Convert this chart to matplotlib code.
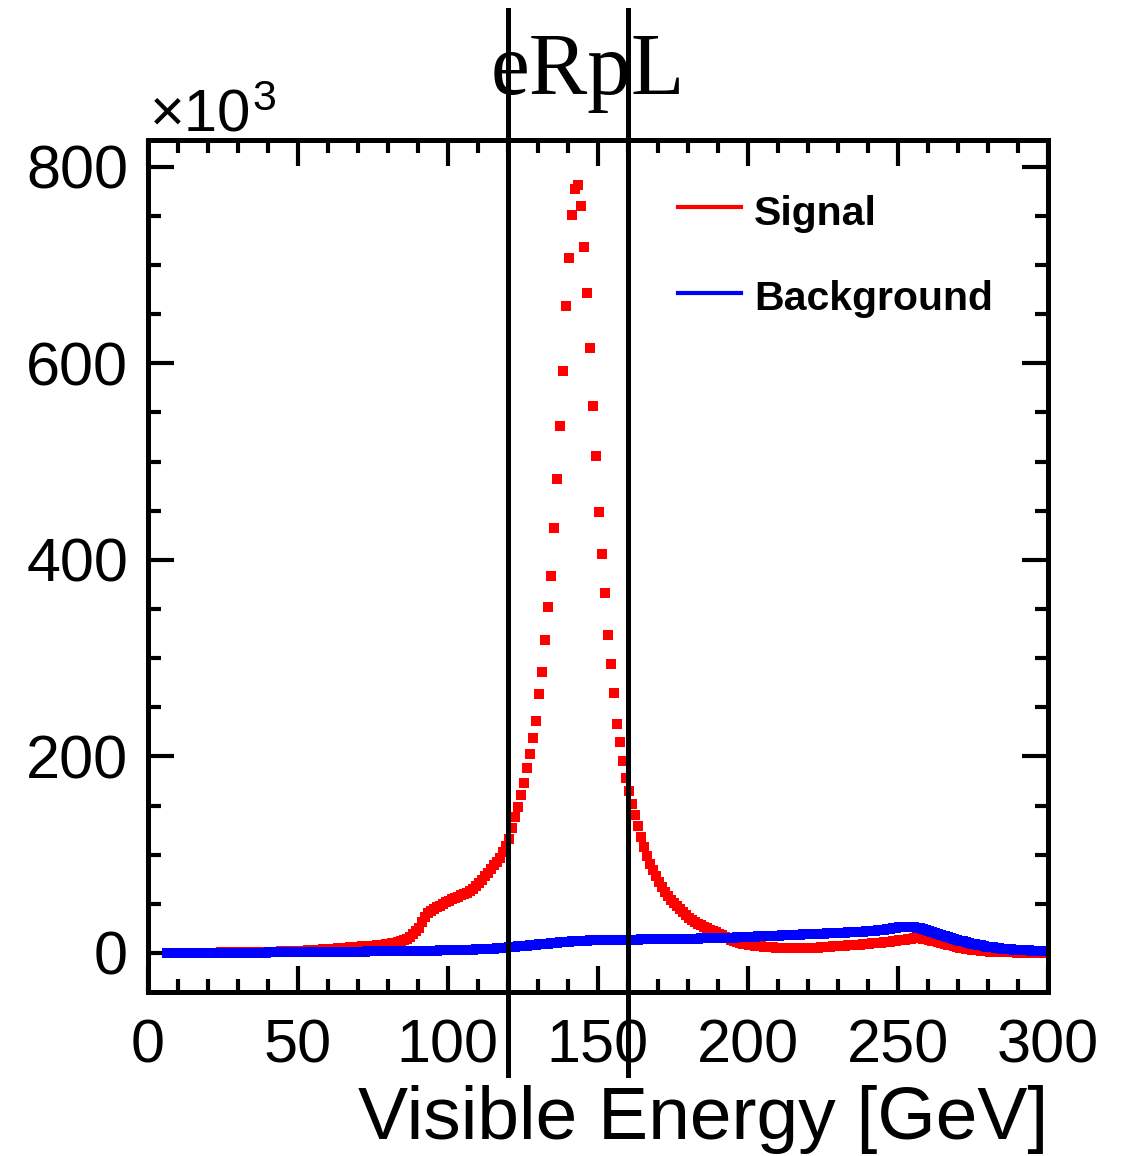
import numpy as np
import matplotlib
matplotlib.use("Agg")
import matplotlib.pyplot as plt
from matplotlib.ticker import MultipleLocator

# visible energy histograms, 1 GeV bins from 6 to 300 GeV, entries in units of 10^3
bin_low = 6
bin_high = 300

signal = (
    [0, 0, 0, 0]
    + [0, 0, 0, 0, 0, 0, 0.1, 0.1, 0.2, 0.2]
    + [0.3, 0.3, 0.4, 0.4, 0.5, 0.5, 0.6, 0.6, 0.7, 0.7]
    + [0.8, 0.8, 0.9, 0.9, 1.0, 1.0, 1.1, 1.1, 1.2, 1.2]
    + [1.3, 1.3, 1.4, 1.4, 1.5, 1.5, 1.6, 1.7, 1.8, 1.9]
    + [2.0, 2.2, 2.4, 2.6, 2.8, 3.0, 3.2, 3.4, 3.6, 3.8]
    + [4.0, 4.2, 4.4, 4.6, 4.8, 5.0, 5.3, 5.6, 5.9, 6.2]
    + [6.4, 6.6, 6.8, 7.0, 7.2, 7.4, 7.7, 8.0, 8.4, 8.8]
    + [9.3, 9.8, 10.4, 11.0, 11.8, 12.8, 14.5, 16.5, 19.0, 22.0]
    + [25.5, 31.0, 37.0, 40.5, 43.0, 45.0, 46.5, 48.0, 50.0, 51.5]
    + [53.0, 54.5, 56.0, 57.0, 58.5, 60.0, 61.5, 63.0, 65.0, 68.0]
    + [71.0, 74.5, 78.0, 81.5, 85.0, 89.0, 93.0, 97.0, 103.0, 109.0]
    + [116.0, 127.0, 138.0, 149.0, 161.0, 173.0, 188.2, 202.5, 218.8, 236.1]
    + [263.5, 286.0, 318.5, 352.1, 383.6, 432.4, 482.3, 536.2, 592.2, 658.3]
    + [707.2, 750.9, 777.4, 781.4, 760.1, 718.4, 671.5, 615.6, 556.6, 505.7]
    + [448.7, 405.9, 366.3, 323.6, 294.1, 264.5, 233.0, 214.7, 195.4, 178.0]
    + [165.0, 152.0, 140.0, 129.0, 118.0, 108.0, 99.0, 91.0, 84.0, 78.0]
    + [72.0, 67.0, 62.0, 58.0, 54.0, 51.0, 47.5, 44.5, 41.5, 38.5]
    + [36.0, 33.5, 31.5, 29.5, 28.0, 26.5, 25.0, 23.5, 22.0, 21.0]
    + [19.5, 18.0, 16.5, 15.0, 13.5, 12.0, 11.0, 10.0, 9.3, 8.7]
    + [8.1, 7.7, 7.3, 7.0, 6.7, 6.4, 6.1, 5.9, 5.7, 5.5]
    + [5.3, 5.2, 5.1, 5.0, 5.0, 5.0, 5.0, 5.0, 5.0, 5.0]
    + [5.0, 5.1, 5.2, 5.4, 5.6, 5.8, 6.0, 6.3, 6.6, 6.9]
    + [7.1, 7.3, 7.5, 7.7, 7.9, 8.1, 8.3, 8.5, 8.8, 9.1]
    + [9.4, 9.7, 10.0, 10.3, 10.6, 10.9, 11.2, 11.5, 11.9, 12.3]
    + [12.7, 13.1, 13.5, 14.0, 14.5, 15.0, 15.3, 15.0, 14.5, 14.0]
    + [13.3, 12.5, 11.7, 10.9, 10.0, 9.2, 8.4, 7.6, 6.9, 6.2]
    + [5.5, 4.9, 4.3, 3.8, 3.3, 2.9, 2.5, 2.2, 1.9, 1.6]
    + [1.4, 1.2, 1.0, 0.9, 0.8, 0.7, 0.6, 0.5, 0.5, 0.4]
    + [0.4, 0.4, 0.3, 0.3, 0.3, 0.3, 0.2, 0.2, 0.2, 0.2]
)

background = (
    [0.2, 0.2, 0.2, 0.2]
    + [0.2, 0.2, 0.2, 0.2, 0.2, 0.2, 0.2, 0.2, 0.2, 0.2]
    + [0.3, 0.3, 0.3, 0.3, 0.3, 0.3, 0.3, 0.3, 0.3, 0.3]
    + [0.4, 0.4, 0.4, 0.4, 0.4, 0.4, 0.4, 0.4, 0.4, 0.4]
    + [0.5, 0.5, 0.5, 0.5, 0.5, 0.5, 0.5, 0.5, 0.5, 0.5]
    + [0.6, 0.6, 0.7, 0.7, 0.8, 0.8, 0.9, 0.9, 1.0, 1.0]
    + [1.0, 1.0, 1.1, 1.1, 1.2, 1.2, 1.2, 1.3, 1.3, 1.3]
    + [1.4, 1.4, 1.4, 1.5, 1.5, 1.5, 1.6, 1.6, 1.6, 1.7]
    + [1.7, 1.7, 1.8, 1.8, 1.8, 1.9, 1.9, 2.0, 2.0, 2.1]
    + [2.1, 2.2, 2.2, 2.3, 2.3, 2.4, 2.4, 2.5, 2.5, 2.6]
    + [2.7, 2.8, 2.9, 3.0, 3.1, 3.2, 3.3, 3.4, 3.5, 3.6]
    + [3.7, 3.8, 3.9, 4.1, 4.3, 4.5, 4.7, 4.9, 5.1, 5.4]
    + [5.7, 6.0, 6.3, 6.6, 6.9, 7.2, 7.5, 7.8, 8.1, 8.4]
    + [8.7, 9.0, 9.3, 9.6, 9.9, 10.2, 10.5, 10.8, 11.1, 11.4]
    + [11.6, 11.8, 12.0, 12.2, 12.4, 12.5, 12.6, 12.7, 12.8, 12.9]
    + [13.0, 13.0, 13.1, 13.1, 13.2, 13.2, 13.3, 13.3, 13.4, 13.4]
    + [13.5, 13.5, 13.6, 13.6, 13.7, 13.7, 13.8, 13.8, 13.9, 13.9]
    + [14.0, 14.0, 14.1, 14.1, 14.2, 14.2, 14.3, 14.3, 14.4, 14.4]
    + [14.5, 14.5, 14.6, 14.7, 14.8, 14.8, 14.9, 15.0, 15.0, 15.1]
    + [15.2, 15.3, 15.4, 15.5, 15.6, 15.7, 15.8, 15.9, 16.0, 16.2]
    + [16.4, 16.5, 16.6, 16.8, 16.9, 17.0, 17.2, 17.3, 17.4, 17.6]
    + [17.7, 17.8, 18.0, 18.1, 18.2, 18.4, 18.5, 18.6, 18.8, 18.9]
    + [19.0, 19.2, 19.3, 19.4, 19.6, 19.7, 19.8, 20.0, 20.1, 20.3]
    + [20.4, 20.6, 20.7, 20.9, 21.0, 21.2, 21.3, 21.5, 21.7, 21.9]
    + [22.1, 22.3, 22.6, 22.9, 23.2, 23.6, 24.0, 24.5, 25.0, 25.5]
    + [26.0, 26.4, 26.7, 26.8, 26.6, 26.2, 25.6, 24.9, 24.1, 23.2]
    + [22.3, 21.3, 20.3, 19.3, 18.3, 17.3, 16.3, 15.3, 14.4, 13.5]
    + [12.6, 11.8, 11.0, 10.2, 9.5, 8.8, 8.2, 7.6, 7.0, 6.5]
    + [6.0, 5.6, 5.2, 4.8, 4.5, 4.2, 3.9, 3.6, 3.4, 3.2]
    + [3.0, 2.8, 2.6, 2.5, 2.4, 2.3, 2.2, 2.1, 2.0, 1.9]
)

cut_low = 120
cut_high = 160

energy = np.arange(bin_low, bin_high) + 0.5

plt.rcParams['font.family'] = 'Liberation Sans'

fig = plt.figure(figsize=(11.35, 11.56), dpi=100)
ax = fig.add_axes([0.1300, 0.1419, 0.7934, 0.7370])

ax.plot(energy, signal, ls='none', marker='s', ms=6.5, mew=0, color='#ff0000')
ax.plot(energy, background, ls='none', marker='s', ms=6.5, mew=0, color='#0000ff')

ax.set_xlim(0, 300)
ax.set_ylim(-39.7, 827.2)

ax.xaxis.set_major_locator(MultipleLocator(50))
ax.xaxis.set_minor_locator(MultipleLocator(10))
ax.yaxis.set_major_locator(MultipleLocator(200))
ax.yaxis.set_minor_locator(MultipleLocator(50))
ax.tick_params(which='both', direction='in', top=True, right=True, width=3, color='black')
ax.tick_params(which='major', length=19, labelsize=44)
ax.tick_params(which='minor', length=9.5)
ax.tick_params(axis='x', which='major', pad=19)
ax.tick_params(axis='y', which='major', pad=14)
for sp in ax.spines.values():
    sp.set_linewidth(3.6)

# cut lines, running past the frame as in the original
for cut in (cut_low, cut_high):
    ax.axvline(cut, ymin=-0.0974, ymax=1.1526, color='black', lw=3.6, clip_on=False, zorder=5)

ax.set_xlabel('Visible Energy [GeV]', fontsize=54, ha='right', x=1.0, labelpad=7)

fig.text(588 / 1135, 1 - 94 / 1156, 'eRpL', family='Liberation Serif', fontsize=63,
         ha='center', va='baseline')
fig.text(150 / 1135, 1 - 132 / 1156, '\u00d710', fontsize=43, ha='left', va='baseline')
fig.text(252 / 1135, 1 - 110 / 1156, '3', fontsize=31, ha='left', va='baseline')

# legend drawn by hand
for label, col, yl, yb in (('Signal', '#ff0000', 207, 225), ('Background', '#0000ff', 293, 310)):
    fig.add_artist(plt.Line2D([678 / 1135, 741 / 1135], [1 - yl / 1156, 1 - yl / 1156],
                              color=col, lw=3))
    fig.text(754 / 1135, 1 - yb / 1156, label, fontsize=29.5, fontweight='bold',
             ha='left', va='baseline')

fig.savefig('out.png', dpi=100)
